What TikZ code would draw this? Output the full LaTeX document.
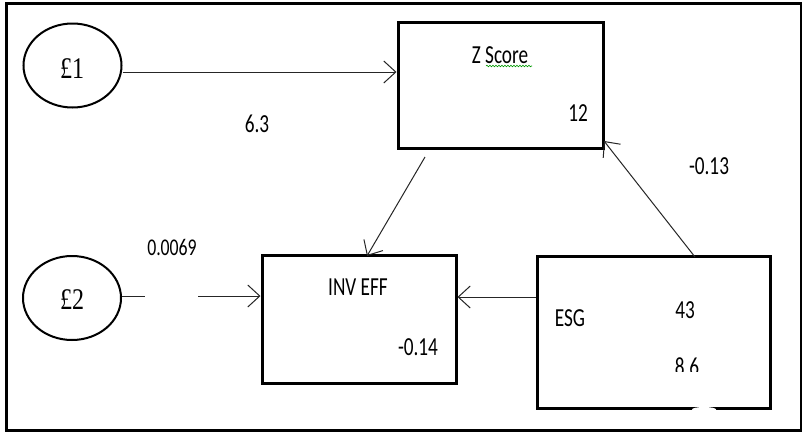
\documentclass[tikz,border=0pt]{standalone}
\usepackage{fontspec}
\setmainfont{Carlito}[FakeStretch=0.74]
\newfontfamily\serifstr{Liberation Serif}[FakeStretch=0.8]
\usetikzlibrary{arrows.meta,decorations.pathmorphing,shapes.geometric}
\tikzset{
  frame/.style={draw=black, line width=2.5pt},
  latent/.style={draw=black, line width=2pt, ellipse, minimum width=98pt, minimum height=84pt, inner sep=0pt,
     font=\serifstr\fontsize{30}{34}\selectfont},
  varbox/.style={draw=black, line width=3pt, rectangle, inner sep=0pt},
  lbl/.style={inner sep=0pt, font=\fontsize{26}{30}\selectfont, text=black},
  lblsmall/.style={inner sep=0pt, font=\fontsize{24}{28}\selectfont, text=black},
  conn/.style={draw=black!85, line width=1pt},
  arr/.style={conn, -{Straight Barb[length=12pt,width=22pt]}},
}
\begin{document}
\begin{tikzpicture}[x=1pt,y=-1pt]
\useasboundingbox (0,0) rectangle (804,434);
\fill[white] (0,0) rectangle (804,434);
\draw[frame] (6.5,3.5) rectangle (801,430.5);

% latent variables
\node[latent] (f1) at (72.5,65.5) {};
\node[inner sep=0pt, font=\serifstr\fontsize{30}{34}\selectfont] (f1t) at (72,69) {£1};
\node[latent] (f2) at (72,298) {};
\node[inner sep=0pt, font=\serifstr\fontsize{30}{34}\selectfont] (f2t) at (72,300) {£2};

% boxes
\node[varbox, minimum width=205pt, minimum height=126pt] (zs) at (500.5,85) {};
\node[varbox, minimum width=194pt, minimum height=128pt] (inv) at (359,319) {};
\node[varbox, minimum width=233pt, minimum height=152pt] (esg) at (653.5,332) {};

% box texts
\node[lbl] (zsname) at (500,55) {Z Score};
\draw[green!60!black, line width=0.6pt, decorate, decoration={snake, amplitude=0.8pt, segment length=3pt}]
  (486,66) -- (532,66);
\node[lbl] (zsval) at (578,113) {12};
\node[lbl] (invname) at (358,287) {INV EFF};
\node[lbl] (invval) at (418,347) {-0.14};
\node[lbl] (esgname) at (570,318) {ESG};
\node[lbl] (esgval) at (685,310) {43};
\begin{scope}
  \clip (650,340) rectangle (730,371);
  \node[lbl] (esgval2) at (687,367) {8.6};
\end{scope}
\fill[white] (704,409.5) ellipse [x radius=12pt, y radius=2.5pt];

% path labels
\node[lbl] (l63) at (257,124) {6.3};
\node[lblsmall] (l0069) at (172,247.5) {0.0069};
\node[lbl] (l013) at (709,166) {-0.13};

% connectors
\coordinate (f1e) at (f1.east |- 0,72);
\draw[arr] (f1e) -- (zs.west |- f1e);

\coordinate (f2a) at (145,296);
\coordinate (f2b) at (198,296);
\draw[conn] (f2.east |- f2a) -- (f2a);
\draw[arr] (f2b) -- (inv.west |- f2b);

\coordinate (zsout) at (425,157);
\coordinate (invin) at (367,256);
\draw[arr] (zsout) -- (invin);

\coordinate (esgtop) at (695,257);
\coordinate (zsin) at (604,141);
\draw[arr] (esgtop) -- (zsin);

\coordinate (esgl) at (esg.west |- 0,297);
\draw[arr] (esgl) -- (inv.east |- esgl);
\end{tikzpicture}
\end{document}
